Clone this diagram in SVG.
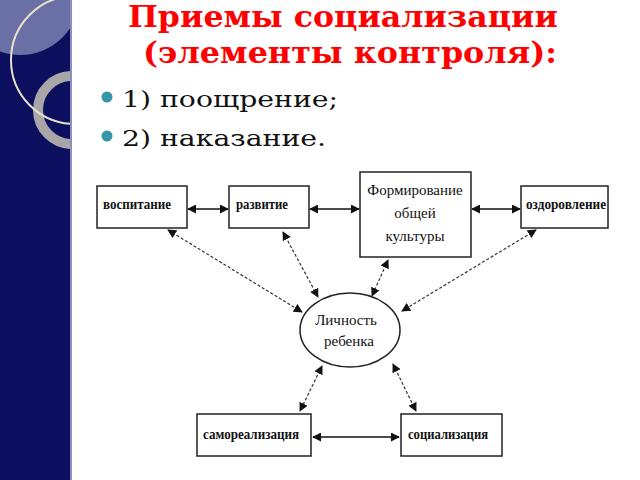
<svg xmlns="http://www.w3.org/2000/svg" width="640" height="480" viewBox="0 0 640 480">
<style>
.box{fill:#fff;stroke:#222;stroke-width:1.5}
.lb{font-family:"Liberation Serif",serif;font-size:15px;font-weight:bold;fill:#111}
.lc{font-family:"Liberation Serif",serif;font-size:15px;fill:#111;text-anchor:middle}
.t{font-family:"DejaVu Serif",serif;font-size:29px;font-weight:bold;fill:#f00}
.b{font-family:"DejaVu Serif",serif;font-size:22px;fill:#111}
.s{stroke:#111;stroke-width:1.6;fill:none;marker-start:url(#a);marker-end:url(#a)}
.d{stroke:#333;stroke-width:1.2;stroke-dasharray:3 2;fill:none;marker-start:url(#a);marker-end:url(#a)}
</style>
<defs>
<marker id="a" viewBox="0 0 10 10" refX="9" refY="5" markerWidth="9" markerHeight="9" markerUnits="userSpaceOnUse" orient="auto-start-reverse"><path d="M0,0L10,5L0,10z" fill="#111"/></marker>
<clipPath id="c"><rect x="0" y="0" width="70" height="480"/></clipPath>
</defs>
<rect width="640" height="480" fill="#fff"/>
<g id="strip" clip-path="url(#c)">
<rect width="70" height="480" fill="#0b0f5e"/>
<circle cx="20" cy="-5" r="60" fill="#6a6fa6"/>
<circle cx="72" cy="110" r="34" fill="none" stroke="#a8a6a8" stroke-width="10"/>
<circle cx="75" cy="60" r="64" fill="none" stroke="#e8e0c8" stroke-width="2"/>
</g>
<line x1="71" y1="0" x2="71" y2="480" stroke="#8b8fc0" stroke-width="2"/>
<text class="t" x="128" y="27" textLength="430" lengthAdjust="spacingAndGlyphs">Приемы социализации</text>
<text class="t" x="143" y="63" textLength="414" lengthAdjust="spacingAndGlyphs">(элементы контроля):</text>
<circle cx="107" cy="97" r="5.5" fill="#3796aa"/>
<circle cx="107" cy="136" r="5.5" fill="#3796aa"/>
<text class="b" x="122" y="107" textLength="216" lengthAdjust="spacingAndGlyphs">1) поощрение;</text>
<text class="b" x="122" y="146" textLength="204" lengthAdjust="spacingAndGlyphs">2) наказание.</text>
<g id="connectors">
<line class="s" x1="188" y1="209" x2="228" y2="209"/>
<line class="s" x1="310" y1="209" x2="359" y2="209"/>
<line class="s" x1="472" y1="209" x2="520" y2="209"/>
<line class="d" x1="168" y1="230" x2="302" y2="312"/>
<line class="d" x1="283" y1="232" x2="318" y2="297"/>
<line class="d" x1="388" y1="260" x2="372" y2="296"/>
<line class="d" x1="536" y1="230" x2="402" y2="311"/>
<line class="d" x1="322" y1="366" x2="300" y2="411"/>
<line class="d" x1="393" y1="364" x2="416" y2="411"/>
<line class="s" x1="313" y1="437" x2="399" y2="437"/>
</g>
<g id="vospitanie"><rect class="box" x="97" y="186" width="90" height="42"/><text class="lb" x="103" y="209" textLength="68" lengthAdjust="spacingAndGlyphs">воспитание</text></g>
<g id="razvitie"><rect class="box" x="229" y="186" width="80" height="42"/><text class="lb" x="236" y="209" textLength="52" lengthAdjust="spacingAndGlyphs">развитие</text></g>
<g id="formirovanie"><rect class="box" x="360" y="172" width="111" height="85"/><text class="lc" x="415" y="195">Формирование</text><text class="lc" x="415" y="218">общей</text><text class="lc" x="415" y="241">культуры</text></g>
<g id="ozdorovlenie"><rect class="box" x="521" y="186" width="87" height="42"/><text class="lb" x="526" y="209" textLength="80" lengthAdjust="spacingAndGlyphs">оздоровление</text></g>
<g id="lichnost"><ellipse cx="350" cy="330" rx="50" ry="37" fill="#fff" stroke="#222" stroke-width="1.5"/><text class="lc" x="346" y="325">Личность</text><text class="lc" x="349" y="346">ребенка</text></g>
<g id="samorealizacia"><rect class="box" x="197" y="414" width="114" height="42"/><text class="lb" x="203" y="439" textLength="96" lengthAdjust="spacingAndGlyphs">самореализация</text></g>
<g id="socializacia"><rect class="box" x="401" y="414" width="101" height="42"/><text class="lb" x="408" y="439" textLength="80" lengthAdjust="spacingAndGlyphs">социализация</text></g>
</svg>
